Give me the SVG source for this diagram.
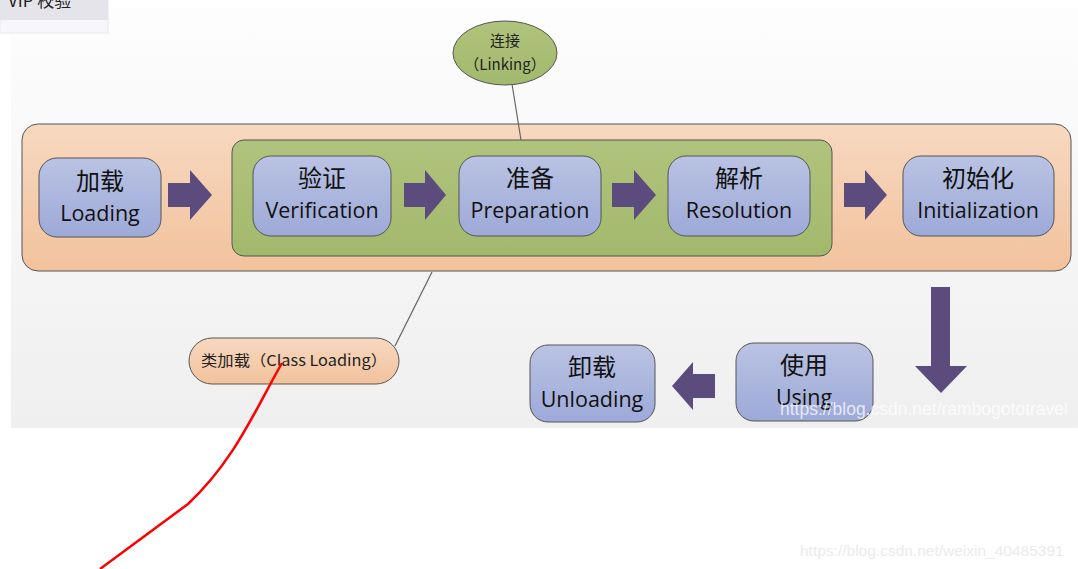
<svg xmlns="http://www.w3.org/2000/svg" width="1078" height="569" viewBox="0 0 1078 569">
<defs>
<linearGradient id="bg" x1="0" y1="0" x2="0" y2="1"><stop offset="0" stop-color="#fdfdfd"/><stop offset="1" stop-color="#efefef"/></linearGradient>
<linearGradient id="org" x1="0" y1="0" x2="0" y2="1"><stop offset="0" stop-color="#f7d8c0"/><stop offset="1" stop-color="#f2c29c"/></linearGradient>
<linearGradient id="blu" x1="0" y1="0" x2="0" y2="1"><stop offset="0" stop-color="#bac3e3"/><stop offset="1" stop-color="#9da9d8"/></linearGradient>
<linearGradient id="grn" x1="0" y1="0" x2="0" y2="1"><stop offset="0" stop-color="#b0c37c"/><stop offset="1" stop-color="#a2b96c"/></linearGradient>
</defs>
<style>
.node{fill:url(#blu);stroke:#555;stroke-width:1}
.zh{font-family:"Noto Sans CJK SC",sans-serif;font-size:24px;fill:#111;text-anchor:middle}
.en{font-family:"Open Sans","Noto Sans",sans-serif;font-size:21.5px;fill:#111;text-anchor:middle}
.arr{fill:#5c4b7d}
.lbl{font-family:"Noto Sans CJK SC",sans-serif;font-size:15px;fill:#222;text-anchor:middle}
.wm{font-family:"Liberation Sans",Arial,sans-serif}
</style>
<rect x="0" y="0" width="1078" height="569" fill="#ffffff"/>
<rect x="11" y="8" width="1067" height="420" fill="url(#bg)"/>
<g id="popup">
<rect x="0" y="0" width="108" height="33" fill="#f6f6fb" stroke="#e8e8ee"/>
<rect x="0" y="0" width="108" height="20" fill="#e4e4ea"/>
<text x="8" y="7" font-family="Noto Sans CJK SC,sans-serif" font-size="17" fill="#222">VIP 校验</text>
</g>
<g id="class-loading-frame">
<rect x="22" y="124" width="1049" height="147" rx="16" fill="url(#org)" stroke="#555" stroke-width="1"/>
</g>
<g id="linking-frame">
<rect x="232" y="140" width="600" height="116" rx="12" fill="url(#grn)" stroke="#555" stroke-width="1"/>
</g>
<g id="connectors" stroke="#666" stroke-width="1.2" fill="none">
<line x1="512" y1="84" x2="521" y2="140"/>
<line x1="395" y1="346" x2="432" y2="272"/>
</g>
<g id="arrows">
<polygon class="arr" points="168,183 190,183 190,170 212,195 190,220 190,207 168,207"/>
<polygon class="arr" points="404,183 425,183 425,170 446,195 425,220 425,207 404,207"/>
<polygon class="arr" points="612,183 634,183 634,170 656,195 634,220 634,207 612,207"/>
<polygon class="arr" points="844,183 865,183 865,170 887,195 865,220 865,207 844,207"/>
<polygon class="arr" points="931,287 950,287 950,366 967,366 941,393 915,366 931,366"/>
<polygon class="arr" points="715,374 693,374 693,362 672,386 693,410 693,398 715,398"/>
</g>
<g id="linking">
<ellipse cx="505" cy="53" rx="52" ry="32" fill="url(#grn)" stroke="#555"/>
<text class="lbl" x="505" y="46">连接</text>
<text class="lbl" x="505" y="70">（Linking）</text>
</g>
<g id="class-loading">
<rect x="189" y="338" width="210" height="46" rx="23" fill="url(#org)" stroke="#555"/>
<text class="lbl" x="294" y="366" font-size="16" textLength="186" lengthAdjust="spacingAndGlyphs">类加载（Class Loading）</text>
</g>
<g id="loading">
<rect class="node" x="39" y="158" width="122" height="79" rx="18"/>
<text class="zh" x="100" y="190">加载</text>
<text class="en" x="100" y="221">Loading</text>
</g>
<g id="verification">
<rect class="node" x="253" y="156" width="138" height="80" rx="18"/>
<text class="zh" x="322" y="187">验证</text>
<text class="en" x="322" y="218">Verification</text>
</g>
<g id="preparation">
<rect class="node" x="459" y="156" width="142" height="80" rx="18"/>
<text class="zh" x="530" y="187">准备</text>
<text class="en" x="530" y="218">Preparation</text>
</g>
<g id="resolution">
<rect class="node" x="668" y="156" width="142" height="80" rx="18"/>
<text class="zh" x="739" y="187">解析</text>
<text class="en" x="739" y="218">Resolution</text>
</g>
<g id="initialization">
<rect class="node" x="903" y="156" width="151" height="80" rx="18"/>
<text class="zh" x="978" y="187">初始化</text>
<text class="en" x="978" y="218">Initialization</text>
</g>
<g id="using">
<rect class="node" x="736" y="343" width="137" height="78" rx="18"/>
<text class="zh" x="804" y="374">使用</text>
<text class="en" x="804" y="405">Using</text>
</g>
<g id="unloading">
<rect class="node" x="530" y="345" width="125" height="77" rx="18"/>
<text class="zh" x="592" y="376">卸载</text>
<text class="en" x="592" y="407">Unloading</text>
</g>
<text class="wm" x="780" y="415" font-size="17.5" fill="#ffffff" fill-opacity="0.75">https://blog.csdn.net/rambogototravel</text>
<text class="wm" x="800" y="556" font-size="15.5" fill="#ebebeb">https://blog.csdn.net/weixin_40485391</text>
<path d="M282,363 C255,410 235,460 188,504 L100,569" fill="none" stroke="#ff0000" stroke-width="2.5"/>
</svg>
